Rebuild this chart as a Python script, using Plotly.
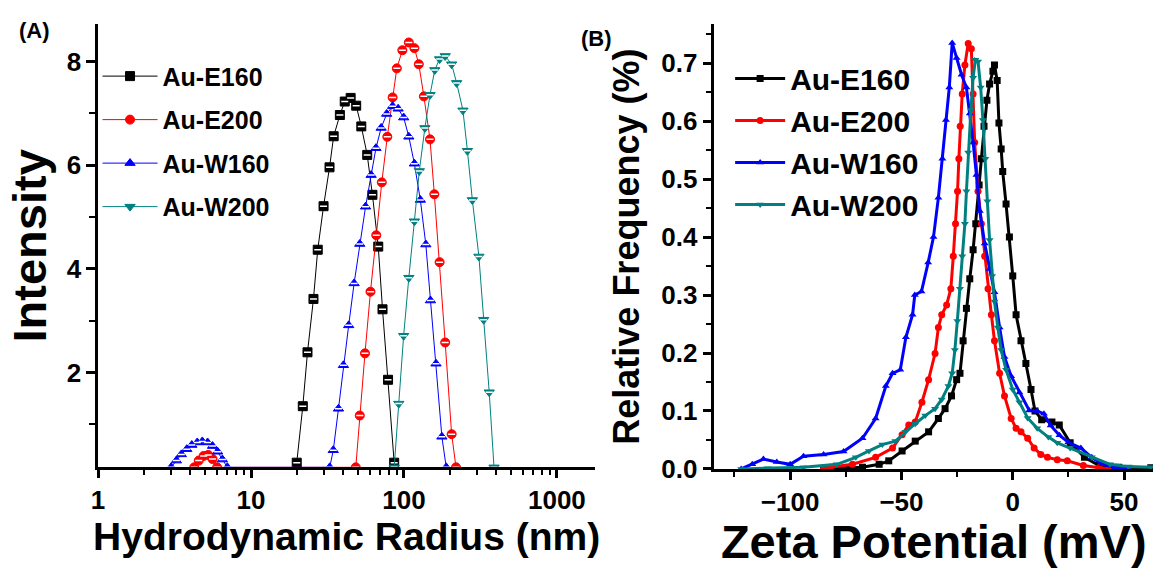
import plotly.graph_objects as go

# ---------------- Panel A: DLS (Intensity vs Hydrodynamic Radius) ----------------
a_e160_x = [19.9, 21.8, 23.4, 25.6, 27.3, 29.8, 32.6, 34.7, 38.1, 41.0, 44.8, 48.7, 52.6, 57.5, 62.2, 67.9, 72.4, 78.7, 86.3]
a_e160_y = [0.26, 1.35, 2.39, 3.42, 4.37, 5.21, 5.96, 6.56, 6.97, 7.23, 7.30, 7.15, 6.75, 6.20, 5.43, 4.43, 3.22, 1.86, 0.26]

a_e200_x = [4.25, 4.55, 4.9, 5.25, 5.6, 6.0,
            48.4, 51.4, 55.6, 60.4, 65.9, 71.6, 77.8, 84.3, 89.8, 97.6, 107.6, 117, 125, 135, 148, 158, 171, 186, 205, 219]
a_e200_y = [0.17, 0.30, 0.39, 0.41, 0.33, 0.17,
            0.17, 1.17, 2.37, 3.56, 4.65, 5.67, 6.55, 7.31, 7.87, 8.22, 8.37, 8.26, 7.95, 7.33, 6.50, 5.44, 4.13, 2.58, 0.81, 0.17]

a_w160_x = [3.0, 3.25, 3.5, 3.8, 4.1, 4.45, 4.8, 5.2, 5.6, 6.05, 6.5, 7.0,
            32.7, 34.5, 37.3, 40.2, 43.5, 47.2, 51.4, 56.1, 61.0, 65.6, 70.9, 77.1, 84.3, 91.6, 99.6, 107.6, 117, 128, 139, 149, 162, 177, 189]
a_w160_y = [0.17, 0.30, 0.42, 0.52, 0.60, 0.65, 0.67, 0.65, 0.58, 0.47, 0.32, 0.17,
            0.17, 0.50, 1.30, 2.14, 2.91, 3.72, 4.48, 5.20, 5.81, 6.33, 6.72, 6.99, 7.14, 7.09, 6.92, 6.55, 6.03, 5.33, 4.47, 3.39, 2.17, 0.76, 0.17]

a_w200_x = [86.3, 92.5, 99.5, 107.6, 117, 126, 137, 148, 159, 171, 186, 205, 221, 243, 260, 280, 309, 332, 361, 388]
a_w200_y = [0.17, 1.40, 2.71, 3.83, 4.92, 5.89, 6.72, 7.36, 7.84, 8.05, 8.11, 7.95, 7.59, 7.06, 6.28, 5.33, 4.24, 3.02, 1.62, 0.17]

# ---------------- Panel B: Zeta potential distribution ----------------
b_e160_x = [-85, -75, -67.5, -60, -55.7, -49.7, -43.8, -37.8, -33.4, -30.4, -27.5, -25.2, -23.7, -22.3, -20.8, -19.3, -17.8,
            -16.6, -15.1, -14.1, -12.9, -11.6, -10.4, -8.9, -8.2, -7.0, -6.2, -5.2, -4.5, -3.0, -1.5, 0.0, 1.5, 3.7, 5.9,
            8.2, 10.0, 13.0, 17.6, 20.9, 25.8, 32.2, 38.8, 47.6, 62.0]
b_e160_y = [0.0, 0.002, 0.003, 0.008, 0.014, 0.031, 0.048, 0.064, 0.087, 0.104, 0.126, 0.154, 0.165, 0.221, 0.277, 0.328, 0.378,
            0.423, 0.490, 0.535, 0.591, 0.636, 0.664, 0.686, 0.697, 0.670, 0.597, 0.552, 0.513, 0.457, 0.400, 0.333, 0.266, 0.221, 0.182,
            0.137, 0.100, 0.085, 0.081, 0.076, 0.045, 0.020, 0.006, 0.003, 0.002]

b_e200_x = [-85, -82, -72, -61.6, -54, -49.7, -46.7, -43.8, -40.8, -37.8, -34.9, -33.4, -31.9, -29.7, -27.8, -26.7, -25.7,
            -24.8, -24.2, -23.6, -22.7, -21.5, -20.0, -18.6, -17.8, -17.1, -15.6, -14.1, -12.6, -11.1, -9.6, -8.2, -5.9,
            -3.7, -0.7, 1.5, 3.7, 6.7, 9.6, 12.6, 15.6, 20.0, 24.5, 31.7, 38.8, 45.0]
b_e200_y = [0.0, 0.003, 0.008, 0.020, 0.036, 0.059, 0.076, 0.081, 0.115, 0.154, 0.199, 0.244, 0.266, 0.283, 0.311, 0.367, 0.423,
            0.479, 0.535, 0.591, 0.647, 0.697, 0.734, 0.725, 0.647, 0.563, 0.479, 0.423, 0.367, 0.311, 0.266, 0.221, 0.165,
            0.126, 0.087, 0.070, 0.064, 0.053, 0.036, 0.025, 0.020, 0.016, 0.014, 0.006, 0.002, 0.0]

b_w160_x = [-122, -117, -112, -106, -100, -94, -85, -76, -67.5, -61.6, -57, -54, -50.5, -48, -45, -44, -41, -38, -35.6,
            -33.4, -31.6, -30, -28.5, -27.2, -25.2, -23, -20.8, -19.3, -17.8, -16.3, -14.8, -12.6, -10.4, -8.2, -5.9,
            -3.7, -0.7, 3, 7.4, 11, 14, 17, 21, 25, 30.6, 35.5, 40.2, 46, 52]
b_w160_y = [0.0, 0.008, 0.017, 0.012, 0.008, 0.022, 0.025, 0.030, 0.053, 0.087, 0.143, 0.165, 0.171, 0.227, 0.266, 0.300, 0.306, 0.356, 0.400,
            0.468, 0.535, 0.602, 0.658, 0.735, 0.709, 0.680, 0.658, 0.613, 0.563, 0.507, 0.445, 0.389, 0.345, 0.305, 0.244,
            0.193, 0.160, 0.132, 0.101, 0.100, 0.095, 0.075, 0.058, 0.046, 0.036, 0.020, 0.008, 0.003, 0.0]

b_w200_x = [-122, -110, -94, -79, -70.5, -64.6, -58.6, -52.7, -48.2, -43.8, -39.3, -34.9, -31.9, -28.9, -27.2, -26, -24.9,
            -23.7, -22.7, -21.5, -20.8, -20, -18.8, -17.8, -16.8, -15.6, -14.4, -13.4, -12.3, -11.4, -10.4, -9.3, -8.2,
            -6.7, -5.2, -3, 0, 3, 6.7, 11, 16, 20, 25.8, 35.5, 43.7, 52, 62]
b_w200_y = [0.0, 0.001, 0.003, 0.008, 0.020, 0.031, 0.042, 0.048, 0.064, 0.078, 0.092, 0.104, 0.120, 0.143, 0.165, 0.205, 0.255,
            0.311, 0.367, 0.423, 0.479, 0.546, 0.619, 0.675, 0.706, 0.703, 0.658, 0.602, 0.535, 0.462, 0.395, 0.333, 0.289,
            0.244, 0.205, 0.171, 0.137, 0.115, 0.088, 0.070, 0.055, 0.045, 0.036, 0.020, 0.008, 0.004, 0.003]

names = ["Au-E160", "Au-E200", "Au-W160", "Au-W200"]
colors = ["#000000", "#ff0000", "#0000ff", "#008080"]
a_symbols = ["square", "circle", "triangle-up", "triangle-down"]
b_symbols = ["square", "circle", "triangle-up", "triangle-down"]

a_x_ticks = [1, 10, 100, 1000]
a_y_ticks = [2, 4, 6, 8]

FONT = "Liberation Sans, Arial, sans-serif"

fig = go.Figure()

a_data = [(a_e160_x, a_e160_y), (a_e200_x, a_e200_y), (a_w160_x, a_w160_y), (a_w200_x, a_w200_y)]
for i, (xs, ys) in enumerate(a_data):
    fig.add_trace(go.Scatter(
        x=xs, y=ys, mode="lines+markers", name=names[i],
        line=dict(color=colors[i], width=1),
        marker=dict(symbol=a_symbols[i], size=9, color=colors[i], line=dict(color=colors[i], width=1)),
        xaxis="x", yaxis="y", legend="legend", legendgroup="a%d" % i))
    fig.add_trace(go.Scatter(
        x=xs, y=ys, mode="markers", showlegend=False, hoverinfo="skip",
        marker=dict(symbol="line-ew", size=5, color="white", line=dict(color="white", width=1.5)),
        xaxis="x", yaxis="y"))

b_data = [(b_e160_x, b_e160_y), (b_e200_x, b_e200_y), (b_w160_x, b_w160_y), (b_w200_x, b_w200_y)]
for i, (xs, ys) in enumerate(b_data):
    fig.add_trace(go.Scatter(
        x=xs, y=ys, mode="lines+markers", name=names[i],
        line=dict(color=colors[i], width=3),
        marker=dict(symbol=b_symbols[i], size=7, color=colors[i]),
        xaxis="x2", yaxis="y2", legend="legend2", legendgroup="b%d" % i))

axis_common = dict(showline=True, linecolor="black", linewidth=2.5, ticks="outside", tickwidth=2.5,
                   tickcolor="black", showgrid=False, zeroline=False, mirror=False,
                   tickfont=dict(family=FONT, size=26, color="black", weight="bold"))

minor_log = [m * d for d in (1, 10, 100, 1000) for m in range(2, 10)]

fig.update_layout(
    width=1153, height=568, margin=dict(l=0, r=0, t=0, b=0),
    paper_bgcolor="white", plot_bgcolor="white",
    font=dict(family=FONT, color="black"),
    xaxis=dict(**axis_common, type="log", range=[0, 3.25], domain=[0.0795, 0.5132], anchor="y",
               tickvals=a_x_ticks, ticktext=[str(v) for v in a_x_ticks], ticklen=8,
               minor=dict(tickvals=minor_log, ticks="outside", ticklen=5, tickwidth=2, tickcolor="black"),
               title=dict(text="Hydrodynamic Radius (nm)", standoff=6,
                          font=dict(family=FONT, size=39, color="black", weight="bold"))),
    yaxis=dict(**axis_common, range=[0.17, 8.72], domain=[0.1549, 0.956], anchor="x",
               tickvals=a_y_ticks, ticklen=9,
               minor=dict(tickvals=[1, 3, 5, 7], ticks="outside", ticklen=6, tickwidth=2, tickcolor="black"),
               title=dict(text="Intensity", standoff=6,
                          font=dict(family=FONT, size=47, color="black", weight="bold"))),
    xaxis2=dict(**axis_common, range=[-134, 63], domain=[0.6173, 1.0], anchor="y2",
                dtick=50, tick0=0, ticklen=8,
                minor=dict(dtick=25, ticks="outside", ticklen=5, tickwidth=2, tickcolor="black"),
                title=dict(text="Zeta Potential (mV)", standoff=4,
                           font=dict(family=FONT, size=47, color="black", weight="bold"))),
    yaxis2=dict(**axis_common, range=[0, 0.767], domain=[0.152, 0.956], anchor="x2",
                dtick=0.1, tick0=0, tickformat=".1f", ticklen=9,
                minor=dict(dtick=0.05, ticks="outside", ticklen=6, tickwidth=2, tickcolor="black"),
                title=dict(text="Relative Frequency (%)", standoff=11,
                           font=dict(family=FONT, size=36, color="black", weight="bold"))),
    legend=dict(x=0.079, y=0.9035, xanchor="left", yanchor="top", bgcolor="rgba(0,0,0,0)",
                font=dict(family=FONT, size=25, color="black", weight="bold"),
                itemwidth=55, tracegroupgap=8, traceorder="grouped"),
    legend2=dict(x=0.631, y=0.905, xanchor="left", yanchor="top", bgcolor="rgba(0,0,0,0)",
                 font=dict(family=FONT, size=30, color="black", weight="bold"),
                 itemwidth=50, tracegroupgap=0, traceorder="normal"),
    annotations=[
        dict(text="(A)", x=10 / 1153, y=1 - 31 / 568, xref="paper", yref="paper", xanchor="left", yanchor="middle",
             showarrow=False, font=dict(family=FONT, size=22, color="black", weight="bold")),
        dict(text="(B)", x=575 / 1153, y=1 - 40 / 568, xref="paper", yref="paper", xanchor="left", yanchor="middle",
             showarrow=False, font=dict(family=FONT, size=22, color="black", weight="bold")),
    ],
    showlegend=True,
)

fig.write_html("out.html")
